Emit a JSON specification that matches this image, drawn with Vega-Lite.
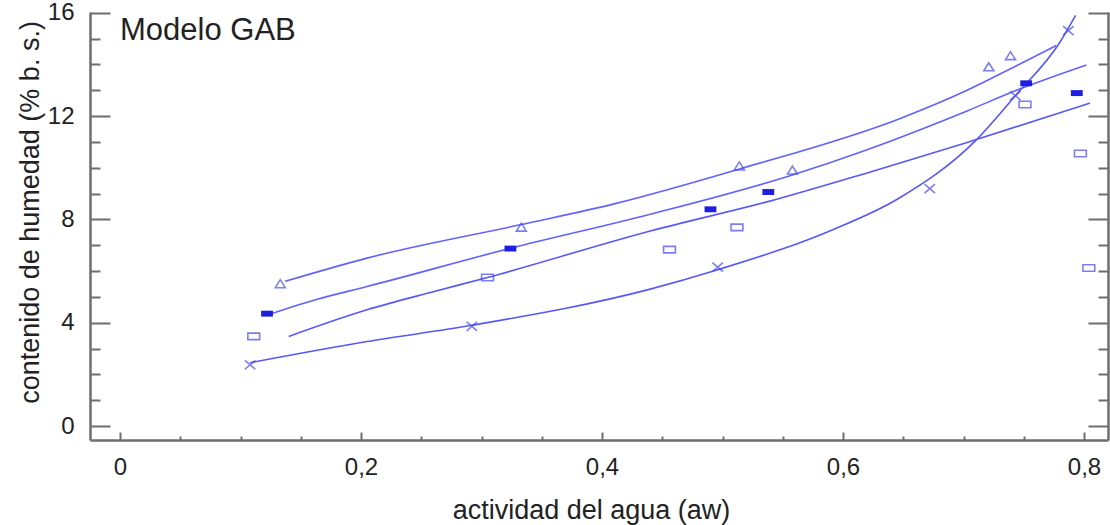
{
  "$schema": "https://vega.github.io/schema/vega-lite/v6.json",
  "width": 1018,
  "height": 428,
  "autosize": "none",
  "padding": {"left": 90, "top": 12, "right": 2, "bottom": 85},
  "background": "white",
  "config": {
    "font": "Liberation Sans",
    "view": {"stroke": null},
    "axis": {"grid": false, "ticks": false, "domainColor": "#6e6e6e", "gridColor": "#6e6e6e", "gridOpacity": 1, "gridWidth": 2, "labelColor": "#222222", "titleColor": "#222222", "labelFont": "Liberation Sans", "titleFont": "Liberation Sans", "titleFontWeight": "normal", "domainWidth": 2.5}
  },
  "datasets": {
    "curves": [
      {"aw": 0.137, "h": 5.60, "curva": "T"},
      {"aw": 0.205, "h": 6.50, "curva": "T"},
      {"aw": 0.333, "h": 7.80, "curva": "T"},
      {"aw": 0.410, "h": 8.60, "curva": "T"},
      {"aw": 0.514, "h": 9.95, "curva": "T"},
      {"aw": 0.647, "h": 11.90, "curva": "T"},
      {"aw": 0.703, "h": 13.00, "curva": "T"},
      {"aw": 0.744, "h": 13.95, "curva": "T"},
      {"aw": 0.777, "h": 14.73, "curva": "T"},
      {"aw": 0.123, "h": 4.31, "curva": "S"},
      {"aw": 0.163, "h": 4.90, "curva": "S"},
      {"aw": 0.205, "h": 5.40, "curva": "S"},
      {"aw": 0.324, "h": 6.88, "curva": "S"},
      {"aw": 0.440, "h": 8.20, "curva": "S"},
      {"aw": 0.558, "h": 9.72, "curva": "S"},
      {"aw": 0.620, "h": 10.70, "curva": "S"},
      {"aw": 0.703, "h": 12.20, "curva": "S"},
      {"aw": 0.744, "h": 13.00, "curva": "S"},
      {"aw": 0.802, "h": 13.98, "curva": "S"},
      {"aw": 0.140, "h": 3.47, "curva": "C"},
      {"aw": 0.205, "h": 4.50, "curva": "C"},
      {"aw": 0.260, "h": 5.20, "curva": "C"},
      {"aw": 0.305, "h": 5.75, "curva": "C"},
      {"aw": 0.440, "h": 7.55, "curva": "C"},
      {"aw": 0.545, "h": 8.78, "curva": "C"},
      {"aw": 0.620, "h": 9.80, "curva": "C"},
      {"aw": 0.703, "h": 10.98, "curva": "C"},
      {"aw": 0.805, "h": 12.50, "curva": "C"},
      {"aw": 0.108, "h": 2.45, "curva": "X"},
      {"aw": 0.205, "h": 3.27, "curva": "X"},
      {"aw": 0.292, "h": 3.90, "curva": "X"},
      {"aw": 0.440, "h": 5.30, "curva": "X"},
      {"aw": 0.496, "h": 6.05, "curva": "X"},
      {"aw": 0.592, "h": 7.61, "curva": "X"},
      {"aw": 0.645, "h": 8.78, "curva": "X"},
      {"aw": 0.710, "h": 11.05, "curva": "X"},
      {"aw": 0.743, "h": 12.79, "curva": "X"},
      {"aw": 0.780, "h": 14.86, "curva": "X"},
      {"aw": 0.793, "h": 15.90, "curva": "X"}
    ],
    "points": [
      {"aw": 0.133, "h": 5.51, "serie": "T"},
      {"aw": 0.333, "h": 7.70, "serie": "T"},
      {"aw": 0.514, "h": 10.07, "serie": "T"},
      {"aw": 0.558, "h": 9.91, "serie": "T"},
      {"aw": 0.721, "h": 13.91, "serie": "T"},
      {"aw": 0.739, "h": 14.34, "serie": "T"},
      {"aw": 0.122, "h": 4.35, "serie": "S"},
      {"aw": 0.324, "h": 6.87, "serie": "S"},
      {"aw": 0.490, "h": 8.39, "serie": "S"},
      {"aw": 0.538, "h": 9.06, "serie": "S"},
      {"aw": 0.752, "h": 13.27, "serie": "S"},
      {"aw": 0.794, "h": 12.89, "serie": "S"},
      {"aw": 0.111, "h": 3.47, "serie": "C"},
      {"aw": 0.305, "h": 5.75, "serie": "C"},
      {"aw": 0.456, "h": 6.83, "serie": "C"},
      {"aw": 0.512, "h": 7.69, "serie": "C"},
      {"aw": 0.751, "h": 12.45, "serie": "C"},
      {"aw": 0.797, "h": 10.55, "serie": "C"},
      {"aw": 0.804, "h": 6.12, "serie": "C"},
      {"aw": 0.108, "h": 2.37, "serie": "X"},
      {"aw": 0.292, "h": 3.86, "serie": "X"},
      {"aw": 0.496, "h": 6.15, "serie": "X"},
      {"aw": 0.672, "h": 9.19, "serie": "X"},
      {"aw": 0.743, "h": 12.79, "serie": "X"},
      {"aw": 0.787, "h": 15.31, "serie": "X"}
    ],
    "rotulo": [{"texto": "Modelo GAB"}]
  },
  "resolve": {"axis": {"x": "independent", "y": "independent"}},
  "layer": [
    {
      "data": {"name": "curves"},
      "transform": [{"filter": "datum.curva == 'T' || datum.curva == 'S'"}],
      "mark": {"type": "line", "interpolate": "monotone", "color": "#6262ff", "strokeWidth": 1.6},
      "encoding": {
        "x": {"field": "aw", "type": "quantitative", "scale": {"domain": [-0.0249, 0.8199], "nice": false, "zero": false},
          "axis": {"orient": "bottom", "values": [0, 0.2, 0.4, 0.6, 0.8], "grid": true, "gridDash": [8, 3000], "gridDashOffset": 2588,
            "labelExpr": "datum.value == 0 ? '0' : replace(format(datum.value, '.1f'), '.', ',')",
            "labelFontSize": 24, "labelPadding": 15, "labelFlush": false,
            "title": "actividad del agua (aw)", "titleFontSize": 27, "titleX": 501, "titleY": 78, "titleBaseline": "alphabetic", "titleAlign": "center"}},
        "y": {"field": "h", "type": "quantitative", "scale": {"domain": [-0.542, 16.03], "nice": false, "zero": false},
          "axis": {"orient": "left", "values": [0, 4, 8, 12, 16], "grid": true, "gridDash": [20, 978, 20, 3000],
            "labelFontSize": 24, "labelPadding": 16, "labelFlush": false, "labelBaseline": "middle",
            "title": "contenido de humedad (% b. s.)", "titleFontSize": 27, "titleAngle": 270, "titleX": -52, "titleY": 200, "titleBaseline": "alphabetic", "titleAlign": "center"}},
        "detail": {"field": "curva", "type": "nominal"}
      }
    },
    {
      "data": {"name": "curves"},
      "transform": [{"filter": "datum.curva == 'C' || datum.curva == 'X'"}],
      "mark": {"type": "line", "interpolate": "monotone", "color": "#5858f8", "strokeWidth": 1.6},
      "encoding": {
        "x": {"field": "aw", "type": "quantitative",
          "axis": {"orient": "bottom", "values": [0.05, 0.1, 0.15, 0.25, 0.3, 0.35, 0.45, 0.5, 0.55, 0.65, 0.7, 0.75], "grid": true, "gridDash": [4, 3000], "gridDashOffset": 2580, "labels": false, "domain": false, "title": null}},
        "y": {"field": "h", "type": "quantitative",
          "axis": {"orient": "right", "values": [1, 2, 3, 5, 6, 7, 9, 10, 11, 13, 14, 15], "grid": true, "gridDash": [10, 998, 10, 3000], "labels": false, "title": null}},
        "detail": {"field": "curva", "type": "nominal"}
      }
    },
    {
      "data": {"name": "points"},
      "transform": [{"filter": "datum.serie == 'T'"}],
      "mark": {"type": "point", "shape": "M-1,0.8L0,-0.8L1,0.8Z", "size": 100, "filled": false, "color": "#4848f0", "strokeWidth": 1.6},
      "encoding": {
        "x": {"field": "aw", "type": "quantitative", "axis": null},
        "y": {"field": "h", "type": "quantitative", "axis": null}
      }
    },
    {
      "data": {"name": "points"},
      "transform": [{"filter": "datum.serie == 'S'"}],
      "mark": {"type": "point", "shape": "M-1,-0.5H1V0.5H-1Z", "size": 140, "filled": true, "color": "#1e1ee0", "opacity": 1},
      "encoding": {
        "x": {"field": "aw", "type": "quantitative", "axis": null},
        "y": {"field": "h", "type": "quantitative", "axis": null}
      }
    },
    {
      "data": {"name": "points"},
      "transform": [{"filter": "datum.serie == 'C'"}],
      "mark": {"type": "point", "shape": "M-1,-0.55H1V0.55H-1Z", "size": 140, "filled": false, "color": "#4848f0", "strokeWidth": 1.6},
      "encoding": {
        "x": {"field": "aw", "type": "quantitative", "axis": null},
        "y": {"field": "h", "type": "quantitative", "axis": null}
      }
    },
    {
      "data": {"name": "points"},
      "transform": [{"filter": "datum.serie == 'X'"}],
      "mark": {"type": "point", "shape": "M-1,-0.85L1,0.85M-1,0.85L1,-0.85", "size": 110, "filled": false, "color": "#4848f0", "strokeWidth": 1.6},
      "encoding": {
        "x": {"field": "aw", "type": "quantitative", "axis": null},
        "y": {"field": "h", "type": "quantitative", "axis": null}
      }
    },
    {
      "data": {"name": "rotulo"},
      "mark": {"type": "text", "align": "left", "baseline": "alphabetic", "fontSize": 31, "font": "Liberation Sans", "color": "#222222"},
      "encoding": {
        "text": {"field": "texto", "type": "nominal"},
        "x": {"datum": 0.0, "type": "quantitative", "axis": null},
        "y": {"datum": 14.94, "type": "quantitative", "axis": null}
      }
    }
  ]
}
